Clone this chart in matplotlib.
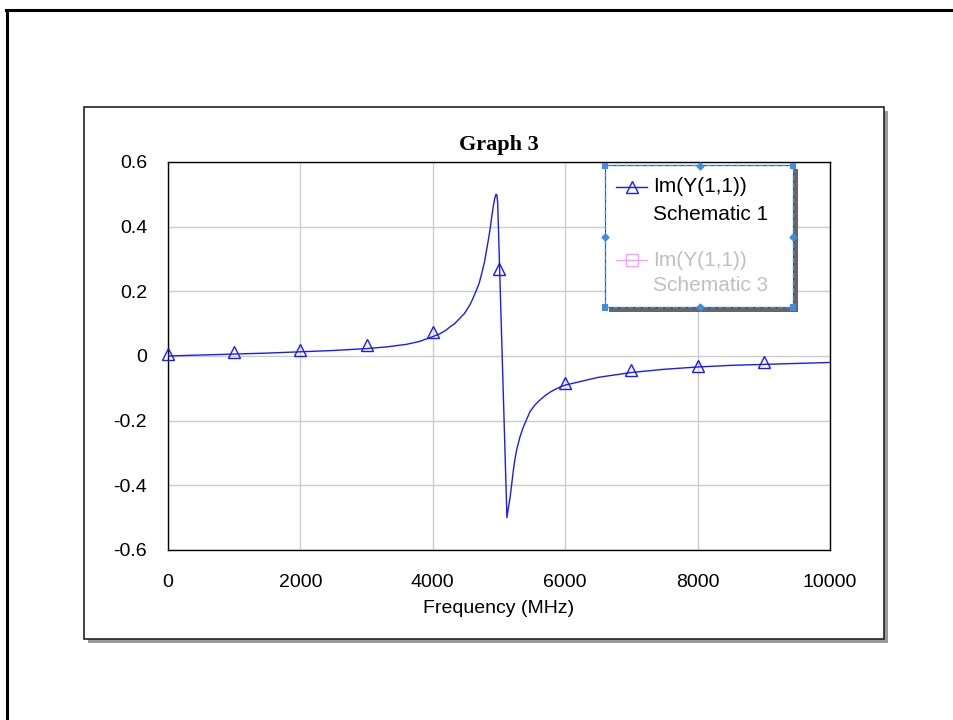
import matplotlib

matplotlib.use("Agg")
import matplotlib.pyplot as plt
from matplotlib.lines import Line2D
from matplotlib.patches import Rectangle

W, H = 954, 720

# Im(Y(1,1)), Schematic 1
freq_mhz = [0, 500, 1000, 1500, 2000, 2500, 3000, 3300, 3600, 3800, 4000, 4100, 4200,
            4260, 4330, 4410, 4480, 4560, 4600, 4660, 4700, 4740, 4780, 4810, 4840,
            4865, 4890, 4915, 4935, 4955, 4968, 4980, 5120, 5141, 5166, 5190, 5216,
            5240, 5267, 5317, 5367, 5420, 5468, 5540, 5619, 5700, 5770, 5850, 5921,
            6000, 6250, 6500, 7000, 7500, 8000, 8500, 9000, 9500, 10000]
im_y = [0.0, 0.003, 0.006, 0.009, 0.013, 0.017, 0.023, 0.028, 0.036, 0.045, 0.060, 0.068, 0.080,
        0.090, 0.100, 0.117, 0.132, 0.158, 0.175, 0.204, 0.225, 0.256, 0.290, 0.325, 0.360,
        0.392, 0.430, 0.465, 0.487, 0.500, 0.498, 0.475, -0.500, -0.470, -0.440, -0.400, -0.355,
        -0.320, -0.290, -0.250, -0.220, -0.195, -0.172, -0.152, -0.136, -0.122, -0.112, -0.103, -0.096,
        -0.090, -0.078, -0.066, -0.051, -0.041, -0.034, -0.029, -0.026, -0.023, -0.020]

# triangle markers on the trace
marker_freq = [0, 1000, 2000, 3000, 4000, 5000, 6000, 7000, 8000, 9000]
marker_im_y = [0.006, 0.012, 0.019, 0.034, 0.074, 0.270, -0.083, -0.043, -0.031, -0.019]

x_ticks = [0, 2000, 4000, 6000, 8000, 10000]
y_ticks = [-0.6, -0.4, -0.2, 0, 0.2, 0.4, 0.6]
y_tick_labels = ["-0.6", "-0.4", "-0.2", "0", "0.2", "0.4", "0.6"]

legend_names = ["Im(Y(1,1))", "Im(Y(1,1))"]
legend_sources = ["Schematic 1", "Schematic 3"]

BLUE = "#1a1aff"
PINK = "#ff9cff"
HANDLE = "#3d8ee6"


def fx(x):
    return x / W


def fy(y):
    return 1 - y / H


def px_rect(fig, x0, y0, x1, y1, **kw):
    r = Rectangle((fx(x0), fy(y1)), fx(x1) - fx(x0), fy(y0) - fy(y1),
                  transform=fig.transFigure, **kw)
    fig.add_artist(r)
    return r


plt.rcParams.update({
    "font.family": "Liberation Sans",
    "font.size": 13,
})

fig = plt.figure(figsize=(W / 100, H / 100), dpi=100)

# outer page frame (left and top edges only are visible)
fig.add_artist(Line2D([fx(7.5), fx(7.5)], [0, fy(9.5)], transform=fig.transFigure,
                      color="black", linewidth=2.2, zorder=-5))
fig.add_artist(Line2D([fx(6.5), 1], [fy(9.5), fy(9.5)], transform=fig.transFigure,
                      color="black", linewidth=2.2, zorder=-5))

# graph panel with drop shadow
px_rect(fig, 88, 111, 888, 643, facecolor="#9a9a9a", edgecolor="none", zorder=-4)
px_rect(fig, 84, 107, 884, 639, facecolor="white", edgecolor="#222222", linewidth=1.2, zorder=-3)

ax = fig.add_axes([fx(168), fy(550), fx(830) - fx(168), fy(162) - fy(550)])
ax.plot(freq_mhz, im_y, color=BLUE, linewidth=1.0, zorder=3)
ax.plot(marker_freq, marker_im_y, linestyle="none", marker="^", markersize=8.5,
        markerfacecolor="none", markeredgecolor=BLUE, markeredgewidth=1.0, zorder=4,
        clip_on=False)

ax.set_xlim(0, 10000)
ax.set_ylim(-0.6, 0.6)
ax.set_xticks(x_ticks, [str(t) for t in x_ticks])
ax.set_yticks(y_ticks, y_tick_labels)
ax.tick_params(axis="both", length=0, labelsize=14)
ax.tick_params(axis="x", pad=17.5)
ax.tick_params(axis="y", pad=15)
ax.grid(True, color="#cccccc", linewidth=1.0)
ax.set_axisbelow(True)
for s in ax.spines.values():
    s.set_linewidth(1.0)
    s.set_color("black")
ax.set_xlabel("Frequency (MHz)", fontsize=14, labelpad=6)

fig.text(fx(499), fy(150), "Graph 3", ha="center", va="baseline", fontsize=16,
         fontweight="bold", family="Liberation Serif")

# legend box (selected, with handles)
L0, T0, R0, B0 = 605.5, 165.5, 793.5, 307.5
px_rect(fig, L0 + 4, T0 + 4, R0 + 4, B0 + 4, facecolor="#666666", edgecolor="none", zorder=5)
px_rect(fig, L0, T0, R0, B0, facecolor="white", edgecolor="#444444", linewidth=0.8, zorder=6)
px_rect(fig, L0, T0, R0, B0, facecolor="none", edgecolor=HANDLE, linewidth=0.9,
        linestyle=(0, (4, 2)), zorder=7)
xm, ym = (L0 + R0) / 2, (T0 + B0) / 2
for hx, hy in [(L0, T0), (R0, T0), (L0, B0), (R0, B0)]:
    px_rect(fig, hx - 3, hy - 3, hx + 3, hy + 3, facecolor=HANDLE, edgecolor="none", zorder=8)
for hx, hy in [(xm, T0), (xm, B0), (L0, ym), (R0, ym)]:
    fig.add_artist(Line2D([fx(hx)], [fy(hy)], transform=fig.transFigure, marker="D",
                          markersize=3.5, color=HANDLE, zorder=8))

entries = [(187, 214, BLUE, "^", "black"), (260, 286, PINK, "s", "#c0c0c0")]
for (y1, y2, col, mk, tcol), name, src in zip(entries, legend_names, legend_sources):
    fig.add_artist(Line2D([fx(616), fx(647)], [fy(y1), fy(y1)], transform=fig.transFigure,
                          color=col, linewidth=1.0, zorder=9))
    fig.add_artist(Line2D([fx(631.5)], [fy(y1)], transform=fig.transFigure, marker=mk,
                          markersize=8, markerfacecolor="none", markeredgecolor=col,
                          markeredgewidth=1.0, zorder=9))
    fig.text(fx(653), fy(y1), name, ha="left", va="center", fontsize=15, color=tcol, zorder=9)
    fig.text(fx(653), fy(y2), src, ha="left", va="center", fontsize=15, color=tcol, zorder=9)

fig.savefig("out.png", dpi=100)
